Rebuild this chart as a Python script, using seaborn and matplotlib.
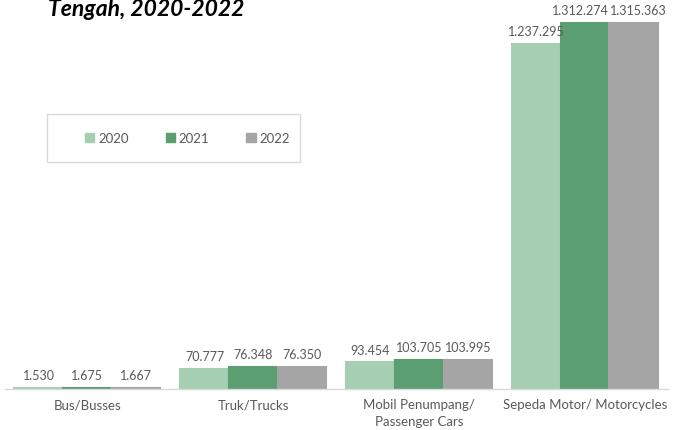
import pandas as pd
import seaborn as sns
import matplotlib.pyplot as plt
from matplotlib.patches import Patch, Rectangle

# data
categories = ["Bus/Busses", "Truk/Trucks", "Mobil Penumpang/\nPassenger Cars",
              "Sepeda Motor/ Motorcycles"]
years = ["2020", "2021", "2022"]
v2020 = [1530, 70777, 93454, 1237295]
v2021 = [1675, 76348, 103705, 1312274]
v2022 = [1667, 76350, 103995, 1315363]
colors = ["#A6CEB2", "#5A9E72", "#A5A5A5"]

rows = []
for yr, vals in zip(years, [v2020, v2021, v2022]):
    for c, v in zip(categories, vals):
        rows.append({"kategori": c, "tahun": yr, "jumlah": v})
df = pd.DataFrame(rows)

sns.set_style("white")
plt.rcParams['font.family'] = ['Lato', 'DejaVu Sans']

dpi = 100
W, H = 679, 431
fig = plt.figure(figsize=(W / dpi, H / dpi), dpi=dpi)
ax = fig.add_axes([4.5 / W, 41.5 / H, 663.5 / W, 389.5 / H])

sns.barplot(data=df, x="kategori", y="jumlah", hue="tahun", order=categories,
            hue_order=years, palette=colors, width=0.88, gap=0, saturation=1,
            linewidth=1.5, ax=ax, legend=False)
# edge in same colour so the small Bus bars stay visible
nudge = [0, -3.5, 3.5]  # spread the two tall labels apart a bit
for cont, col, dx in zip(ax.containers, colors, nudge):
    for p in cont:
        p.set_edgecolor(col)
    labs = ax.bar_label(cont, labels=[f"{int(round(b.get_height())):,}".replace(",", ".")
                                      for b in cont],
                        padding=5, fontsize=9, color="#595959")
    labs[-1].xyann = (dx, 5)

ax.set_xlim(-0.5, 3.5)
ax.set_ylim(0, 1.40e6)
ax.set_yticks([])
ax.set_xlabel("")
ax.set_ylabel("")
ax.tick_params(axis="x", length=0, pad=7, labelsize=9.5, labelcolor="#595959")
for t in ax.get_xticklabels():
    t.set_linespacing(1.5)
for s in ["top", "left", "right"]:
    ax.spines[s].set_visible(False)
ax.spines["bottom"].set_color("#D9D9D9")
ax.spines["bottom"].set_linewidth(1)

# legend frame + items
fig.patches.append(Rectangle((47 / W, (H - 163) / H), 253 / W, 48 / H,
                             transform=fig.transFigure, facecolor="none",
                             edgecolor="#D9D9D9", linewidth=1))
handles = [Patch(facecolor=c, edgecolor=c) for c in colors]
leg = fig.legend(handles, years, loc="center", ncol=3, mode="expand",
                 bbox_to_anchor=(85 / W, (H - 152) / H, 205 / W, 26 / H),
                 bbox_transform=fig.transFigure, frameon=False,
                 handlelength=0.7, handleheight=0.7, handletextpad=0.3,
                 borderpad=0, borderaxespad=0, fontsize=9.5, labelcolor="#595959")

fig.text(146 / W, 1 - 16 / H, "Tengah, 2020-2022", ha="center", va="baseline",
         fontsize=16.5, fontweight="bold", fontstyle="italic", color="black")

fig.savefig("out.png", dpi=dpi)
